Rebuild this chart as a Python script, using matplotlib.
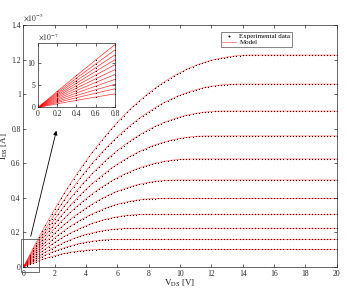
import numpy as np
import matplotlib
matplotlib.use("Agg")
import matplotlib.pyplot as plt

plt.rcParams['font.family'] = ['Liberation Serif', 'DejaVu Serif']
plt.rcParams['mathtext.fontset'] = 'stix'

# Saturation current per curve (units of 1e-5 A)
i_sat = [1.226, 1.058, 0.902, 0.758, 0.625, 0.503, 0.397, 0.305, 0.224, 0.160, 0.102]
# Initial slope per curve (units of 1e-5 A/V) at V_DS = 0.8 V
g_zero = [0.183, 0.168, 0.154, 0.140, 0.126, 0.112, 0.098, 0.084, 0.070, 0.057, 0.042]
knee_order = 2.2   # shape of the approach to saturation

v_exp = np.round(np.arange(0, 20.0001, 0.2), 3)   # measurement grid, 0.2 V step
v_mod = np.linspace(0, 20, 801)

x_ticks = [0, 2, 4, 6, 8, 10, 12, 14, 16, 18, 20]
y_ticks = [0, 0.2, 0.4, 0.6, 0.8, 1.0, 1.2, 1.4]
y_tick_labels = ['0', '0.2', '0.4', '0.6', '0.8', '1', '1.2', '1.4']
in_x_ticks = [0, 0.2, 0.4, 0.6, 0.8]
in_x_labels = ['0', '0.2', '0.4', '0.6', '0.8']
in_y_ticks = [0, 5, 10]


def model(v, g0, isat, n=knee_order):
    vsat = n * isat / g0
    r = np.clip(1 - v / vsat, 0, None)
    return isat * (1 - r ** n)


gray = (0.15, 0.15, 0.15)
fig = plt.figure(figsize=(3.47, 2.92), dpi=100)
ax = fig.add_axes([0.0677, 0.0856, 0.9026, 0.8288])

for k, (g0, isat) in enumerate(zip(g_zero, i_sat)):
    ax.plot(v_exp, model(v_exp, g0, isat), ls='none', marker='o', ms=0.9, mew=0,
            color='black', label='Experimental data' if k == 0 else None, zorder=2)
for k, (g0, isat) in enumerate(zip(g_zero, i_sat)):
    ax.plot(v_mod, model(v_mod, g0, isat), color='red', lw=0.5, alpha=0.6,
            label='Model' if k == 0 else None, zorder=3)

ax.set_xlim(0, 20)
ax.set_ylim(0, 1.4)
ax.set_xticks(x_ticks)
ax.set_xticklabels([str(t) for t in x_ticks])
ax.set_yticks(y_ticks)
ax.set_yticklabels(y_tick_labels)
ax.tick_params(direction='in', length=2.5, width=0.5, labelsize=5.5, colors=gray,
               top=True, right=True, pad=2)
for s in ax.spines.values():
    s.set_color(gray)
    s.set_linewidth(0.5)
ax.set_xlabel(r'$\mathrm{V_{DS}}$ [V]', fontsize=6.5, color=gray, labelpad=0)
ax.set_ylabel(r'$\mathrm{I_{DS}}$ [A]', fontsize=6.5, color=gray, labelpad=1)
ax.text(0.0, 1.01, r'$\times10^{-5}$', transform=ax.transAxes, fontsize=5.5,
        color=gray, ha='left', va='bottom')

h, l = ax.get_legend_handles_labels()
order = [l.index('Experimental data'), l.index('Model')]
leg = ax.legend([h[i] for i in order], [l[i] for i in order], loc='upper right',
                bbox_to_anchor=(0.868, 0.985), fontsize=5, frameon=True,
                fancybox=False, edgecolor=gray, borderpad=0.2, labelspacing=0.0,
                handlelength=2.0, handletextpad=0.5, markerscale=1.6)
leg.get_frame().set_linewidth(0.5)

# zoom rectangle and arrow
ax.add_patch(plt.Rectangle((-0.18, -0.03), 1.19, 0.19, fill=False, ec='#555555',
                           lw=0.6, clip_on=False, zorder=4))
ax.annotate('', xy=(2.14, 0.804), xytext=(0.42, 0.162),
            arrowprops=dict(arrowstyle='-|>', color='black', lw=0.6,
                            mutation_scale=6), zorder=4)

# inset
ins = fig.add_axes([0.1095, 0.632, 0.2219, 0.2219])
v_in = np.linspace(0, 0.8, 81)
mask = v_exp <= 0.8001
for g0, isat in zip(g_zero, i_sat):
    ins.plot(v_exp[mask], model(v_exp[mask], g0, isat) * 100, ls='none',
             marker='o', ms=0.9, mew=0, color='black', zorder=2)
for g0, isat in zip(g_zero, i_sat):
    ins.plot(v_in, model(v_in, g0, isat) * 100, color='red', lw=0.5, alpha=0.8,
             zorder=3)
ins.set_xlim(0, 0.8)
ins.set_ylim(0, 14.6)
ins.set_xticks(in_x_ticks)
ins.set_xticklabels(in_x_labels)
ins.set_yticks(in_y_ticks)
ins.set_yticklabels([str(t) for t in in_y_ticks])
ins.tick_params(direction='in', length=2, width=0.5, labelsize=5.5, colors=gray,
                top=True, right=True, pad=2)
for s in ins.spines.values():
    s.set_color(gray)
    s.set_linewidth(0.5)
ins.text(0.0, 1.01, r'$\times10^{-7}$', transform=ins.transAxes, fontsize=5.5,
         color=gray, ha='left', va='bottom')

fig.savefig('out.png', dpi=100)
